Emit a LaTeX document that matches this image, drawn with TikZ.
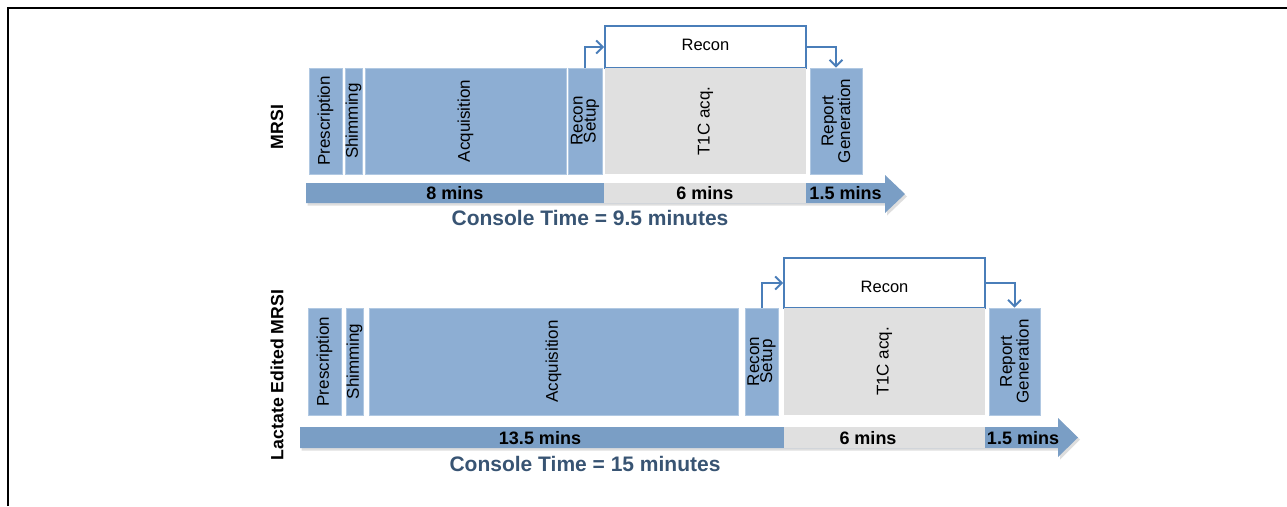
\documentclass[tikz,border=0pt]{standalone}
\usepackage{fontspec}
\setmainfont{Liberation Sans}
\usetikzlibrary{arrows.meta}

\definecolor{boxblue}{RGB}{141,174,211}
\definecolor{boxedge}{RGB}{176,200,226}
\definecolor{barblue}{RGB}{122,158,197}
\definecolor{t1gray}{RGB}{224,224,224}
\definecolor{linkblue}{RGB}{74,126,185}
\definecolor{consoleblue}{RGB}{56,84,115}

\tikzset{
  blk/.style={rectangle, inner sep=0pt, fill=boxblue, draw=boxedge, line width=0.6pt},
  grayblk/.style={rectangle, inner sep=0pt, fill=t1gray, draw=none},
  reconblk/.style={rectangle, inner sep=0pt, fill=white, draw=linkblue, line width=1.8pt},
  lab/.style={rotate=90, align=center, inner sep=0pt, font=\fontsize{17}{17}\selectfont},
  hlab/.style={inner sep=0pt, font=\fontsize{16.5}{16.5}\selectfont},
  minslab/.style={inner sep=0pt, font=\bfseries\fontsize{18}{18}\selectfont},
  console/.style={inner sep=0pt, text=consoleblue, font=\bfseries\fontsize{21}{21}\selectfont},
  rowtitle/.style={rotate=90, inner sep=0pt, font=\bfseries\fontsize{17.7}{17.7}\selectfont},
  link/.style={draw=linkblue, line width=2pt, -{Straight Barb[length=6.5pt,width=13pt,line width=2pt]}},
  shadowfill/.style={fill=black!13},
}

\begin{document}
\begin{tikzpicture}[x=1pt, y=-1pt]
\useasboundingbox (0,0) rectangle (1287,506);

% frame edges
\draw[line width=2pt] (8,506) -- (8,7.5) -- (1287,7.5);

% ===================== MRSI =====================
\node[rowtitle] (title1) at (277,127) {MRSI};

\node[reconblk, minimum width=201, minimum height=42] (recon1) at (705.5,47) {};
\node[hlab] at (705.5,44.5) {Recon};

\node[blk, minimum width=33, minimum height=106] (pres1) at (325.5,121) {};
\node[blk, minimum width=17, minimum height=106] (shim1) at (353.5,121) {};
\node[blk, minimum width=201, minimum height=106] (acq1) at (465.5,121) {};
\node[blk, minimum width=34, minimum height=106] (rs1) at (585,121) {};
\node[grayblk, minimum width=201, minimum height=106] (t1c1) at (705.5,121) {};
\node[blk, minimum width=52, minimum height=106] (rep1) at (836,121) {};

\node[lab] at (pres1) {Prescription};
\node[lab] at (shim1) {Shimming};
\node[lab] at (acq1) {Acquisition};
\node[lab, font=\fontsize{17}{9.5}\selectfont] at (rs1) {Recon\\Setup};
\node[lab] at (t1c1) {T1C acq.};
\node[lab, font=\fontsize{17}{14.5}\selectfont] at (rep1) {Report\\Generation};

\draw[link] (rs1.north) |- (recon1.west);
\draw[link] (recon1.east) -| (rep1.north);

% time line
\fill[shadowfill] (307.5,185.5) -- (887,185.5) -- (887,177.5) -- (907,196.5) -- (887,215.5) -- (887,205.5) -- (307.5,205.5) -- cycle;
\fill[barblue] (306,183) -- (885,183) -- (885,175) -- (905,194) -- (885,213) -- (885,203) -- (306,203) -- cycle;
\fill[t1gray] (604,183) rectangle (806,203);
\node[minslab] (m1a) at (455,193.5) {8 mins};
\node[minslab] (m1b) at (705,193.5) {6 mins};
\node[minslab] (m1c) at (845.5,193.5) {1.5 mins};
\node[console] (c1) at (590,217.5) {Console Time = 9.5 minutes};

% ============== Lactate Edited MRSI ==============
\node[rowtitle] (title2) at (277,375) {Lactate Edited MRSI};

\node[reconblk, minimum width=201, minimum height=50] (recon2) at (884.5,283) {};
\node[hlab] at (884.5,287) {Recon};

\node[blk, minimum width=33, minimum height=107] (pres2) at (324.5,361.5) {};
\node[blk, minimum width=17, minimum height=107] (shim2) at (354.5,361.5) {};
\node[blk, minimum width=369, minimum height=107] (acq2) at (553.5,361.5) {};
\node[blk, minimum width=33, minimum height=107] (rs2) at (761.5,361.5) {};
\node[grayblk, minimum width=201, minimum height=107] (t1c2) at (884.5,361.5) {};
\node[blk, minimum width=51, minimum height=107] (rep2) at (1014.5,361.5) {};

\node[lab] at (pres2) {Prescription};
\node[lab] at (shim2) {Shimming};
\node[lab] at (acq2) {Acquisition};
\node[lab, font=\fontsize{17}{9.5}\selectfont] at (rs2) {Recon\\Setup};
\node[lab] at (t1c2) {T1C acq.};
\node[lab, font=\fontsize{17}{14.5}\selectfont] at (rep2) {Report\\Generation};

\draw[link] (rs2.north) |- (recon2.west);
\draw[link] (recon2.east) -| (rep2.north);

% time line
\fill[shadowfill] (301.5,429.5) -- (1060,429.5) -- (1060,420.5) -- (1080,439.5) -- (1060,459.5) -- (1060,450.5) -- (301.5,450.5) -- cycle;
\fill[barblue] (300,427) -- (1058,427) -- (1058,418) -- (1078,437.5) -- (1058,457) -- (1058,448) -- (300,448) -- cycle;
\fill[t1gray] (784,427) rectangle (985,448);
\node[minslab] (m2a) at (540,438) {13.5 mins};
\node[minslab] (m2b) at (868,438) {6 mins};
\node[minslab] (m2c) at (1023,438) {1.5 mins};
\node[console] (c2) at (585,463.5) {Console Time = 15 minutes};
\end{tikzpicture}
\end{document}
